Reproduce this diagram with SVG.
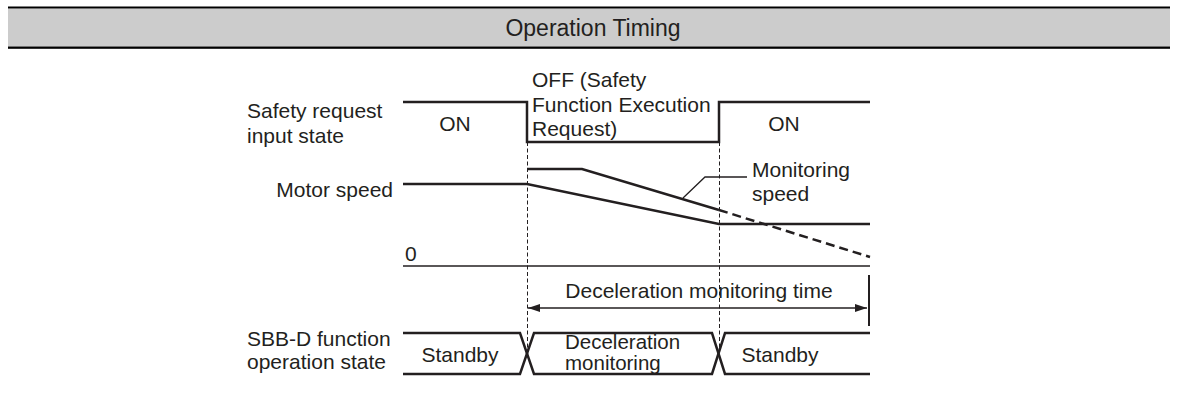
<svg xmlns="http://www.w3.org/2000/svg" width="1178" height="394" viewBox="0 0 1178 394">
<style>
text{font-family:"Liberation Sans",Arial,sans-serif;font-size:21px;fill:#231f20}
.title{font-size:23px}
.small{font-size:20.5px}
.mid{text-anchor:middle}
.end{text-anchor:end}
.sig{fill:none;stroke:#231f20;stroke-width:2.5;stroke-linejoin:miter}
.thin{fill:none;stroke:#231f20;stroke-width:1.3}
.dash{fill:none;stroke:#231f20;stroke-width:1;stroke-dasharray:4,2.5}
.dash2{fill:none;stroke:#231f20;stroke-width:2.5;stroke-dasharray:9,5}
</style>
<defs>
<marker id="ah" viewBox="0 0 12 8" refX="12" refY="4" markerWidth="12" markerHeight="8" markerUnits="userSpaceOnUse" orient="auto-start-reverse">
<path d="M0,0 L12,4 L0,8 z" fill="#231f20"/>
</marker>
</defs>
<g id="header">
<rect x="8" y="8.5" width="1162" height="38" fill="#cccccc"/>
<rect x="8" y="6.5" width="1162" height="2" fill="#000"/>
<rect x="8" y="46.5" width="1162" height="2.3" fill="#000"/>
<text class="mid title" x="593" y="36">Operation Timing</text>
</g>
<g id="labels">
<text x="247" y="118">Safety request</text>
<text x="247" y="143">input state</text>
<text class="end" x="393" y="197">Motor speed</text>
<text x="405" y="261">0</text>
<text x="247" y="346">SBB-D function</text>
<text x="247" y="369">operation state</text>
</g>
<g id="connectors">
<path class="dash" d="M527.5,142 V352 M719.5,142 V352"/>
<path class="sig" d="M403,102 H527 V142 H719 V102 H870"/>
<path class="sig" d="M403,184 H527 L719,224 H870"/>
<path class="sig" d="M527,169 H582 L719,210"/>
<path class="dash2" d="M719,210 L870,257"/>
<path class="thin" d="M747,177 H705 L683,198"/>
<path class="thin" d="M403,266 H870"/>
<path class="thin" d="M528,308 H867" marker-start="url(#ah)" marker-end="url(#ah)"/>
<path fill="none" stroke="#231f20" stroke-width="2" d="M869,275 V326"/>
<path class="sig" d="M403,333 H520 L534,374 H712 L725,333 H870"/>
<path class="sig" d="M403,374 H520 L534,333 H712 L725,374 H870"/>
</g>
<g id="signal-text">
<text class="mid" x="455" y="131">ON</text>
<text class="mid" x="784" y="131">ON</text>
<text x="532" y="87">OFF (Safety</text>
<text x="532" y="111.5">Function Execution</text>
<text x="532" y="136">Request)</text>
<text x="752" y="177">Monitoring</text>
<text x="752" y="201">speed</text>
<text class="mid" x="699" y="298">Deceleration monitoring time</text>
</g>
<g id="bus-text">
<text class="mid" x="460" y="362">Standby</text>
<text class="small" x="565"><tspan x="565" y="349">Deceleration</tspan><tspan x="565" y="370">monitoring</tspan></text>
<text class="mid" x="780" y="362">Standby</text>
</g>
</svg>
